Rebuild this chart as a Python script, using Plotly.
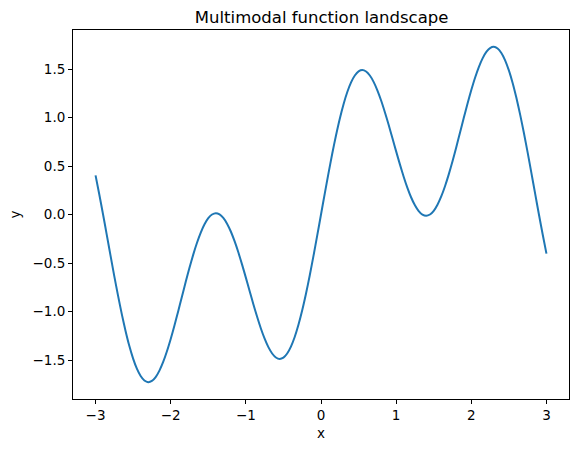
import plotly.graph_objects as go

# curve samples, x from 0 to 3 in steps of 0.05
# (the curve is point-symmetric about the origin, so the left half mirrors it)
x_half = [round(0.05 * i, 2) for i in range(61)]
y_half = [0.0, 0.2159, 0.4270, 0.6288, 0.8171, 0.9876, 1.1370, 1.2624, 1.3613, 1.4325,
          1.4748, 1.4884, 1.4739, 1.4328, 1.3674, 1.2801, 1.1749, 1.0547, 0.9244, 0.7883,
          0.6509, 0.5166, 0.3899, 0.2750, 0.1752, 0.0943, 0.0346, -0.0018, -0.0136, 0.0000,
          0.0386, 0.1012, 0.1861, 0.2914, 0.4134, 0.5491, 0.6944, 0.8451, 0.9964, 1.1441,
          1.2835, 1.4102, 1.5202, 1.6098, 1.6762, 1.7161, 1.7282, 1.7113, 1.6649, 1.5893,
          1.4853, 1.3562, 1.2026, 1.0298, 0.8395, 0.6379, 0.4264, 0.2123, -0.0005, -0.2065,
          -0.4029]

x_vals = [-v for v in reversed(x_half[1:])] + x_half
y_vals = [-v for v in reversed(y_half[1:])] + y_half

x_ticks = [-3, -2, -1, 0, 1, 2, 3]
y_ticks = [-1.5, -1.0, -0.5, 0.0, 0.5, 1.0, 1.5]

def fmt(v, d):
    s = f"{v:.{d}f}"
    return s.replace("-", "\u2212")

fig = go.Figure()
fig.add_trace(go.Scatter(
    x=x_vals, y=y_vals, mode='lines',
    line=dict(color='#1f77b4', width=2, shape='spline', smoothing=0.6),
    showlegend=False,
))

axis_style = dict(
    showline=True, mirror=True, linecolor='black', linewidth=1,
    ticks='outside', ticklen=4, tickwidth=1, tickcolor='black',
    showgrid=False, zeroline=False, automargin=False,
    tickfont=dict(family='DejaVu Sans', size=13.5, color='black'),
)

fig.update_xaxes(range=[-3.3, 3.3], tickvals=x_ticks,
                 ticktext=[fmt(v, 0) for v in x_ticks],
                 title=dict(text='x', font=dict(family='DejaVu Sans', size=13.5, color='black'), standoff=6),
                 **axis_style)
fig.update_yaxes(range=[-1.902, 1.902], tickvals=y_ticks,
                 ticktext=[fmt(v, 1) for v in y_ticks],
                 title=dict(text='y', font=dict(family='DejaVu Sans', size=13.5, color='black'), standoff=8),
                 **axis_style)

fig.update_layout(
    width=579, height=453,
    margin=dict(l=73, r=10, t=30, b=54),
    paper_bgcolor='white', plot_bgcolor='white',
    title=dict(text='Multimodal function landscape', x=0.5555, xanchor='center',
               y=0.962, yanchor='middle',
               font=dict(family='DejaVu Sans', size=16.5, color='black')),
)

# drop the page's default body margin so the figure sits at the window's corner
fig.write_html("out.html", config={'displayModeBar': False},
               post_script="document.body.style.margin='0';")
